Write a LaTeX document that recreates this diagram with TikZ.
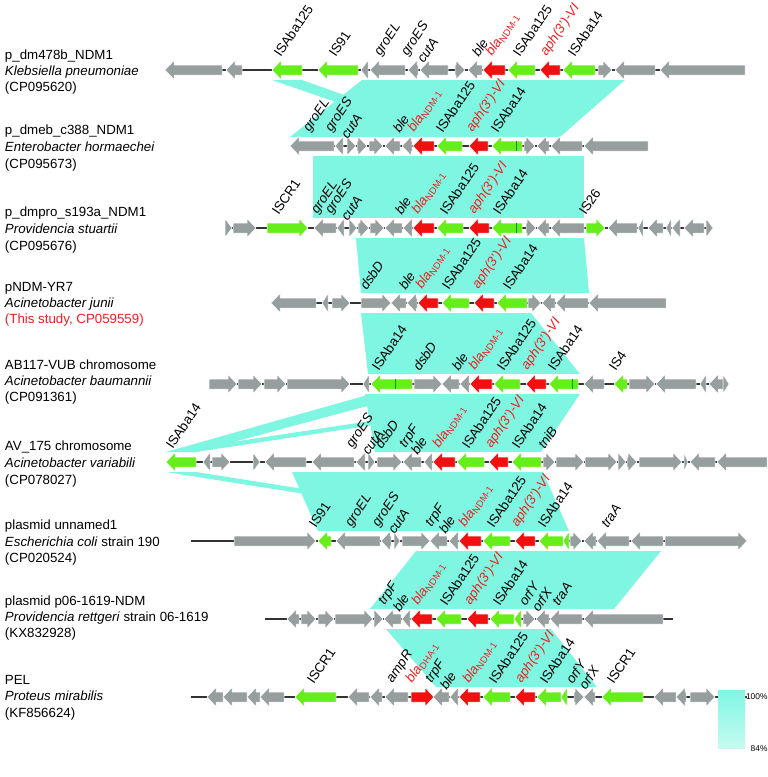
\documentclass[tikz,border=0pt]{standalone}
\usepackage{fontspec}
\setmainfont{Liberation Sans}
\definecolor{gg}{RGB}{150,158,158}
\definecolor{gn}{RGB}{102,238,26}
\definecolor{rd}{RGB}{240,16,16}
\definecolor{tl}{RGB}{127,246,226}
\definecolor{lr}{RGB}{240,30,30}
\newcommand\gene[5]{%
 \pgfmathsetmacro\glen{min(9,#3-#2)}%
 \if#1R
  \fill[#5,draw=white,line width=0.5pt] (#2,#4-5) -- (#3-\glen,#4-5) -- (#3-\glen,#4-9.5) -- (#3,#4) -- (#3-\glen,#4+9.5) -- (#3-\glen,#4+5) -- (#2,#4+5) -- cycle;
 \else
  \fill[#5,draw=white,line width=0.5pt] (#3,#4-5) -- (#2+\glen,#4-5) -- (#2+\glen,#4-9.5) -- (#2,#4) -- (#2+\glen,#4+9.5) -- (#2+\glen,#4+5) -- (#3,#4+5) -- cycle;
 \fi}
\newcommand\gsep[2]{\draw[green!60!black,line width=0.3pt] (#1,#2-5) -- (#1,#2+5);}
\newcommand\lab[4][black]{\node[glab,text=#1] at (#2,#3) {#4};}
\newcommand\bla{\textit{bla}\textsubscript{NDM-1}}
\newcommand\aph{\textit{aph(3')-VI}}
\begin{document}
\begin{tikzpicture}[x=1pt,y=-1pt,
  every node/.style={inner sep=0pt,outer sep=0pt},
  glab/.style={rotate=56,anchor=south west,font=\fontsize{13.4}{14}\selectfont},
  side/.style={anchor=base west,font=\fontsize{13.3}{15}\selectfont},
  bb/.style={line width=1.2pt,draw=black!80},
  band/.style={fill=tl}]
\useasboundingbox (0,0) rectangle (768,777);
% ---------------- bands
% rows 1-2
\fill[band] (272,80) -- (302,80) -- (462,137) -- (437,137) -- cycle;
\fill[band] (290,137) -- (560,137) -- (625,80) -- (362,80) -- cycle;
% rows 2-3
\fill[band] (313,156) -- (584,156) -- (584,218) -- (313,218) -- cycle;
% rows 3-4
\fill[band] (356,238) -- (584,238) -- (589,293) -- (361,293) -- cycle;
% rows 4-5
\fill[band] (361,313) -- (531,313) -- (580,374) -- (368,374) -- cycle;
\fill[band] (497,313) -- (527,313) -- (412,374) -- (371,374) -- cycle;
% rows 5-6
\fill[band] (371,394) -- (412,394) -- (196,452) -- (166,452) -- cycle;
\fill[band] (549,394) -- (578,394) -- (196,452) -- (166,452) -- cycle;
\fill[band] (365,394) -- (580,394) -- (541,452) -- (375,452) -- cycle;
% rows 6-7
\fill[band] (166,472) -- (196,472) -- (569,531) -- (539,531) -- cycle;
\fill[band] (292,472) -- (543,472) -- (569,531) -- (318,531) -- cycle;
% rows 7-8
\fill[band] (416,551) -- (661,551) -- (614,609) -- (370,609) -- cycle;
% rows 8-9
\fill[band] (386,629) -- (551,629) -- (597,687) -- (436,687) -- cycle;
% ---------------- row 1 (y=70)
\draw[bb] (165,70) -- (745,70);
\gene{L}{165}{222}{70}{gg}\gene{L}{226}{242}{70}{gg}
\gene{L}{272}{302}{70}{gn}\gene{L}{318}{358}{70}{gn}
\gene{L}{361}{368}{70}{gg}\gene{L}{370}{405}{70}{gg}\gene{L}{408}{418}{70}{gg}\gene{L}{420}{448}{70}{gg}
\gene{R}{455}{465}{70}{gg}\gene{L}{468}{482}{70}{gg}
\gene{L}{483}{505}{70}{rd}\gene{L}{508}{535}{70}{gn}\gene{L}{540}{560}{70}{rd}\gene{L}{563}{595}{70}{gn}
\gene{R}{598}{612}{70}{gg}\gene{L}{615}{655}{70}{gg}\gene{L}{660}{745}{70}{gg}
% ---------------- row 2 (y=146)
\draw[bb] (290,146) -- (648,146);
\gene{L}{290}{334}{146}{gg}\gene{L}{335}{343}{146}{gg}\gene{R}{347}{356}{146}{gg}\gene{R}{357}{367}{146}{gg}
\gene{R}{369}{383}{146}{gg}\gene{L}{385}{400}{146}{gg}\gene{L}{402}{412}{146}{gg}
\gene{L}{413}{434}{146}{rd}\gene{L}{437}{462}{146}{gn}\gene{L}{469}{488}{146}{rd}\gene{L}{492}{522}{146}{gn}\gsep{516}{146}
\gene{R}{524}{535}{146}{gg}\gene{L}{537}{549}{146}{gg}\gene{L}{551}{582}{146}{gg}\gene{L}{584}{648}{146}{gg}
% ---------------- row 3 (y=228)
\draw[bb] (225,228) -- (713,228);
\gene{R}{225}{232}{228}{gg}\gene{R}{233}{256}{228}{gg}\gene{R}{267}{308}{228}{gn}
\gene{L}{314}{336}{228}{gg}\gene{L}{337}{344}{228}{gg}\gene{R}{349}{357}{228}{gg}\gene{R}{358}{369}{228}{gg}
\gene{R}{370}{384}{228}{gg}\gene{L}{385}{402}{228}{gg}\gene{L}{403}{412}{228}{gg}
\gene{L}{413}{434}{228}{rd}\gene{L}{437}{463}{228}{gn}\gene{L}{469}{489}{228}{rd}\gene{L}{492}{522}{228}{gn}\gsep{516}{228}
\gene{R}{526}{536}{228}{gg}\gene{L}{537}{549}{228}{gg}\gene{L}{551}{584}{228}{gg}\gene{R}{586}{605}{228}{gn}
\gene{L}{608}{637}{228}{gg}\gene{L}{638}{643}{228}{gg}\gene{L}{648}{663}{228}{gg}\gene{L}{666}{671}{228}{gg}
\gene{L}{672}{680}{228}{gg}\gene{L}{684}{704}{228}{gg}\gene{R}{706}{713}{228}{gg}
% ---------------- row 4 (y=303)
\draw[bb] (271,303) -- (666,303);
\gene{L}{271}{316}{303}{gg}\gene{L}{322}{328}{303}{gg}\gene{R}{332}{350}{303}{gg}
\gene{R}{361}{391}{303}{gg}\gene{L}{391}{406}{303}{gg}\gene{L}{407}{417}{303}{gg}
\gene{L}{418}{438}{303}{rd}\gene{L}{442}{469}{303}{gn}\gene{L}{474}{494}{303}{rd}\gene{L}{497}{527}{303}{gn}
\gene{R}{528}{541}{303}{gg}\gene{L}{542}{555}{303}{gg}\gene{L}{556}{588}{303}{gg}\gene{L}{589}{666}{303}{gg}
% ---------------- row 5 (y=384)
\draw[bb] (209,384) -- (729,384);
\gene{R}{209}{237}{384}{gg}\gene{R}{238}{262}{384}{gg}\gene{R}{264}{286}{384}{gg}\gene{R}{287}{350}{384}{gg}
\gene{L}{363}{369}{384}{gg}\gene{L}{371}{412}{384}{gn}\gsep{395}{384}
\gene{R}{414}{442}{384}{gg}\gene{L}{442}{459}{384}{gg}\gene{L}{460}{469}{384}{gg}
\gene{L}{470}{492}{384}{rd}\gene{L}{494}{520}{384}{gn}\gene{L}{526}{546}{384}{rd}\gene{L}{549}{578}{384}{gn}\gsep{572}{384}
\gene{L}{584}{604}{384}{gg}\gene{L}{614}{627}{384}{gn}\gene{R}{629}{655}{384}{gg}\gene{L}{656}{696}{384}{gg}
\gene{L}{700}{706}{384}{gg}\gene{L}{709}{723}{384}{gg}\gene{R}{723}{729}{384}{gg}
% ---------------- row 6 (y=462)
\draw[bb] (166,462) -- (767,462);
\gene{L}{166}{196}{462}{gn}\gene{L}{203}{210}{462}{gg}\gene{R}{212}{230}{462}{gg}
\gene{R}{253}{260}{462}{gg}\gene{L}{265}{306}{462}{gg}\gene{L}{312}{354}{462}{gg}\gene{L}{356}{365}{462}{gg}
\gene{R}{368}{375}{462}{gg}\gene{R}{377}{402}{462}{gg}\gene{L}{403}{421}{462}{gg}\gene{L}{424}{432}{462}{gg}
\gene{L}{433}{455}{462}{rd}\gene{L}{457}{484}{462}{gn}\gene{L}{489}{508}{462}{rd}\gene{L}{512}{541}{462}{gn}
\gene{R}{543}{555}{462}{gg}\gene{R}{556}{584}{462}{gg}\gene{R}{585}{617}{462}{gg}\gene{R}{618}{626}{462}{gg}
\gene{R}{627}{637}{462}{gg}\gene{R}{639}{682}{462}{gg}\gene{R}{684}{688}{462}{gg}\gene{L}{690}{715}{462}{gg}\gene{L}{717}{767}{462}{gg}
% ---------------- row 7 (y=541)
\draw[bb] (191,541) -- (747,541);
\gene{R}{234}{316}{541}{gg}\gene{L}{318}{331}{541}{gn}\gene{L}{336}{380}{541}{gg}\gene{L}{381}{391}{541}{gg}
\gene{R}{394}{400}{541}{gg}\gene{R}{402}{430}{541}{gg}\gene{L}{430}{447}{541}{gg}\gene{L}{449}{458}{541}{gg}
\gene{L}{459}{481}{541}{rd}\gene{L}{483}{510}{541}{gn}\gene{L}{515}{535}{541}{rd}\gene{L}{539}{563}{541}{gn}\gene{L}{563}{569}{541}{gn}
\gene{R}{570}{582}{541}{gg}\gene{L}{584}{596}{541}{gg}\gene{L}{597}{629}{541}{gg}\gene{L}{631}{663}{541}{gg}\gene{R}{665}{747}{541}{gg}
% ---------------- row 8 (y=619)
\draw[bb] (265,619) -- (673,619);
\gene{L}{287}{299}{619}{gg}\gene{R}{301}{316}{619}{gg}\gene{R}{318}{334}{619}{gg}\gene{R}{335}{373}{619}{gg}
\gene{R}{374}{383}{619}{gg}\gene{L}{384}{401}{619}{gg}\gene{L}{402}{410}{619}{gg}
\gene{L}{411}{432}{619}{rd}\gene{L}{436}{461}{619}{gn}\gene{L}{467}{488}{619}{rd}\gene{L}{490}{514}{619}{gn}\gene{L}{514}{521}{619}{gn}
\gene{R}{523}{535}{619}{gg}\gene{L}{536}{549}{619}{gg}\gene{L}{550}{582}{619}{gg}\gene{L}{584}{663}{619}{gg}
% ---------------- row 9 (y=697)
\draw[bb] (191,697) -- (747,697);
\gene{L}{207}{223}{697}{gg}\gene{L}{223}{247}{697}{gg}\gene{L}{247}{260}{697}{gg}\gene{L}{260}{284}{697}{gg}
\gene{L}{295}{336}{697}{gn}\gene{L}{348}{369}{697}{gg}\gene{L}{370}{382}{697}{gg}\gene{L}{385}{408}{697}{gg}
\gene{R}{411}{434}{697}{rd}\gene{L}{433}{449}{697}{gg}\gene{L}{450}{458}{697}{gg}
\gene{L}{459}{480}{697}{rd}\gene{L}{483}{510}{697}{gn}\gene{L}{515}{535}{697}{rd}\gene{L}{537}{561}{697}{gn}\gene{L}{561}{567}{697}{gn}
\gene{R}{574}{584}{697}{gg}\gene{L}{584}{595}{697}{gg}\gene{L}{602}{643}{697}{gn}
\gene{L}{654}{676}{697}{gg}\gene{L}{676}{686}{697}{gg}\gene{R}{690}{715}{697}{gg}
% ---------------- gene labels
% row1
\lab{281}{58}{ISAba125}\lab{336}{58}{IS91}\lab{383}{58}{\textit{groEL}}\lab{410}{58}{\textit{groES}}\lab{424}{64}{\textit{cutA}}
\lab{479}{58}{\textit{ble}}\lab[lr]{494}{58}{\bla}\lab{520}{58}{ISAba125}\lab[lr]{549}{58}{\aph}\lab{575}{58}{ISAba14}
% row2
\lab{312}{134}{\textit{groEL}}\lab{334}{134}{\textit{groES}}\lab{348}{140}{\textit{cutA}}
\lab{400}{134}{\textit{ble}}\lab[lr]{416}{134}{\bla}\lab{443}{134}{ISAba125}\lab[lr]{475}{134}{\aph}\lab{498}{134}{ISAba14}
% row3
\lab{279}{216}{ISCR1}\lab{320}{216}{\textit{groEL}}\lab{334}{216}{\textit{groES}}\lab{348}{222}{\textit{cutA}}
\lab{402}{216}{\textit{ble}}\lab[lr]{420}{216}{\bla}\lab{447}{216}{ISAba125}\lab[lr]{477}{216}{\aph}\lab{500}{216}{ISAba14}\lab{586}{216}{IS26}
% row4
\lab{367}{291}{\textit{dsbD}}\lab{406}{291}{\textit{ble}}\lab[lr]{424}{291}{\bla}\lab{449}{291}{ISAba125}\lab[lr]{481}{291}{\aph}\lab{510}{291}{ISAba14}
% row5
\lab{379}{372}{ISAba14}\lab{420}{372}{\textit{dsbD}}\lab{459}{372}{\textit{ble}}\lab[lr]{477}{372}{\bla}\lab{504}{372}{ISAba125}\lab[lr]{530}{372}{\aph}\lab{555}{372}{ISAba14}\lab{616}{372}{IS4}
% row6
\lab{173}{450}{ISAba14}\lab{355}{450}{\textit{groES}}\lab{369}{456}{\textit{cutA}}\lab{382}{450}{\textit{dsbD}}
\lab{408}{450}{\textit{trpF}}\lab{418}{456}{\textit{ble}}\lab[lr]{441}{450}{\bla}\lab{469}{450}{ISAba125}\lab[lr]{494}{450}{\aph}\lab{519}{450}{ISAba14}\lab{545}{450}{\textit{tniB}}
% row7
\lab{316}{529}{IS91}\lab{354}{529}{\textit{groEL}}\lab{381}{529}{\textit{groES}}\lab{395}{535}{\textit{cutA}}
\lab{434}{529}{\textit{trpF}}\lab{446}{535}{\textit{ble}}\lab[lr]{467}{529}{\bla}\lab{494}{529}{ISAba125}\lab[lr]{520}{529}{\aph}\lab{545}{529}{ISAba14}\lab{608}{529}{\textit{traA}}
% row8
\lab{387}{607}{\textit{trpF}}\lab{400}{613}{\textit{ble}}\lab[lr]{420}{607}{\bla}\lab{447}{607}{ISAba125}\lab[lr]{473}{607}{\aph}\lab{500}{607}{ISAba14}
\lab{526}{607}{\textit{orfY}}\lab{539}{613}{\textit{orfX}}\lab{559}{607}{\textit{traA}}
% row9
\lab{314}{685}{ISCR1}\lab{395}{685}{\textit{ampR}}\lab[lr]{414}{685}{\textit{bla}\textsubscript{DHA-1}}\lab{434}{685}{\textit{trpF}}\lab{447}{691}{\textit{ble}}
\lab[lr]{471}{685}{\bla}\lab{496}{685}{ISAba125}\lab[lr]{524}{685}{\aph}\lab{547}{685}{ISAba14}
\lab{573}{685}{\textit{orfY}}\lab{586}{691}{\textit{orfX}}\lab{614}{685}{ISCR1}
% ---------------- side labels
\node[side] at (5,59) {p\_dm478b\_NDM1};
\node[side] at (5,75) {\textit{Klebsiella pneumoniae}};
\node[side] at (5,91) {(CP095620)};
\node[side] at (5,134) {p\_dmeb\_c388\_NDM1};
\node[side] at (5,151) {\textit{Enterobacter hormaechei}};
\node[side] at (5,168) {(CP095673)};
\node[side] at (5,216) {p\_dmpro\_s193a\_NDM1};
\node[side] at (5,233) {\textit{Providencia stuartii}};
\node[side] at (5,250) {(CP095676)};
\node[side] at (5,291) {pNDM-YR7};
\node[side] at (5,307) {\textit{Acinetobacter junii}};
\node[side,text=lr] at (5,323) {(This study, CP059559)};
\node[side] at (5,369) {AB117-VUB chromosome};
\node[side] at (5,385) {\textit{Acinetobacter baumannii}};
\node[side] at (5,401) {(CP091361)};
\node[side] at (5,450) {AV\_175 chromosome};
\node[side] at (5,467) {\textit{Acinetobacter variabili}};
\node[side] at (5,484) {(CP078027)};
\node[side] at (5,529) {plasmid unnamed1};
\node[side] at (5,546) {\textit{Escherichia coli} strain 190};
\node[side] at (5,562) {(CP020524)};
\node[side] at (5,605) {plasmid p06-1619-NDM};
\node[side] at (5,621) {\textit{Providencia rettgeri} strain 06-1619};
\node[side] at (5,637) {(KX832928)};
\node[side] at (5,684) {PEL};
\node[side] at (5,700) {\textit{Proteus mirabilis}};
\node[side] at (5,717) {(KF856624)};
% ---------------- legend
\shade[top color=tl,bottom color=tl!45] (718,690) rectangle (745,748);
\node[anchor=east,font=\fontsize{8.4}{10}\selectfont] (l100) at (767.5,697) {100\%};
\node[anchor=east,font=\fontsize{8.4}{10}\selectfont] (l84) at (767.5,749) {84\%};
\end{tikzpicture}
\end{document}
